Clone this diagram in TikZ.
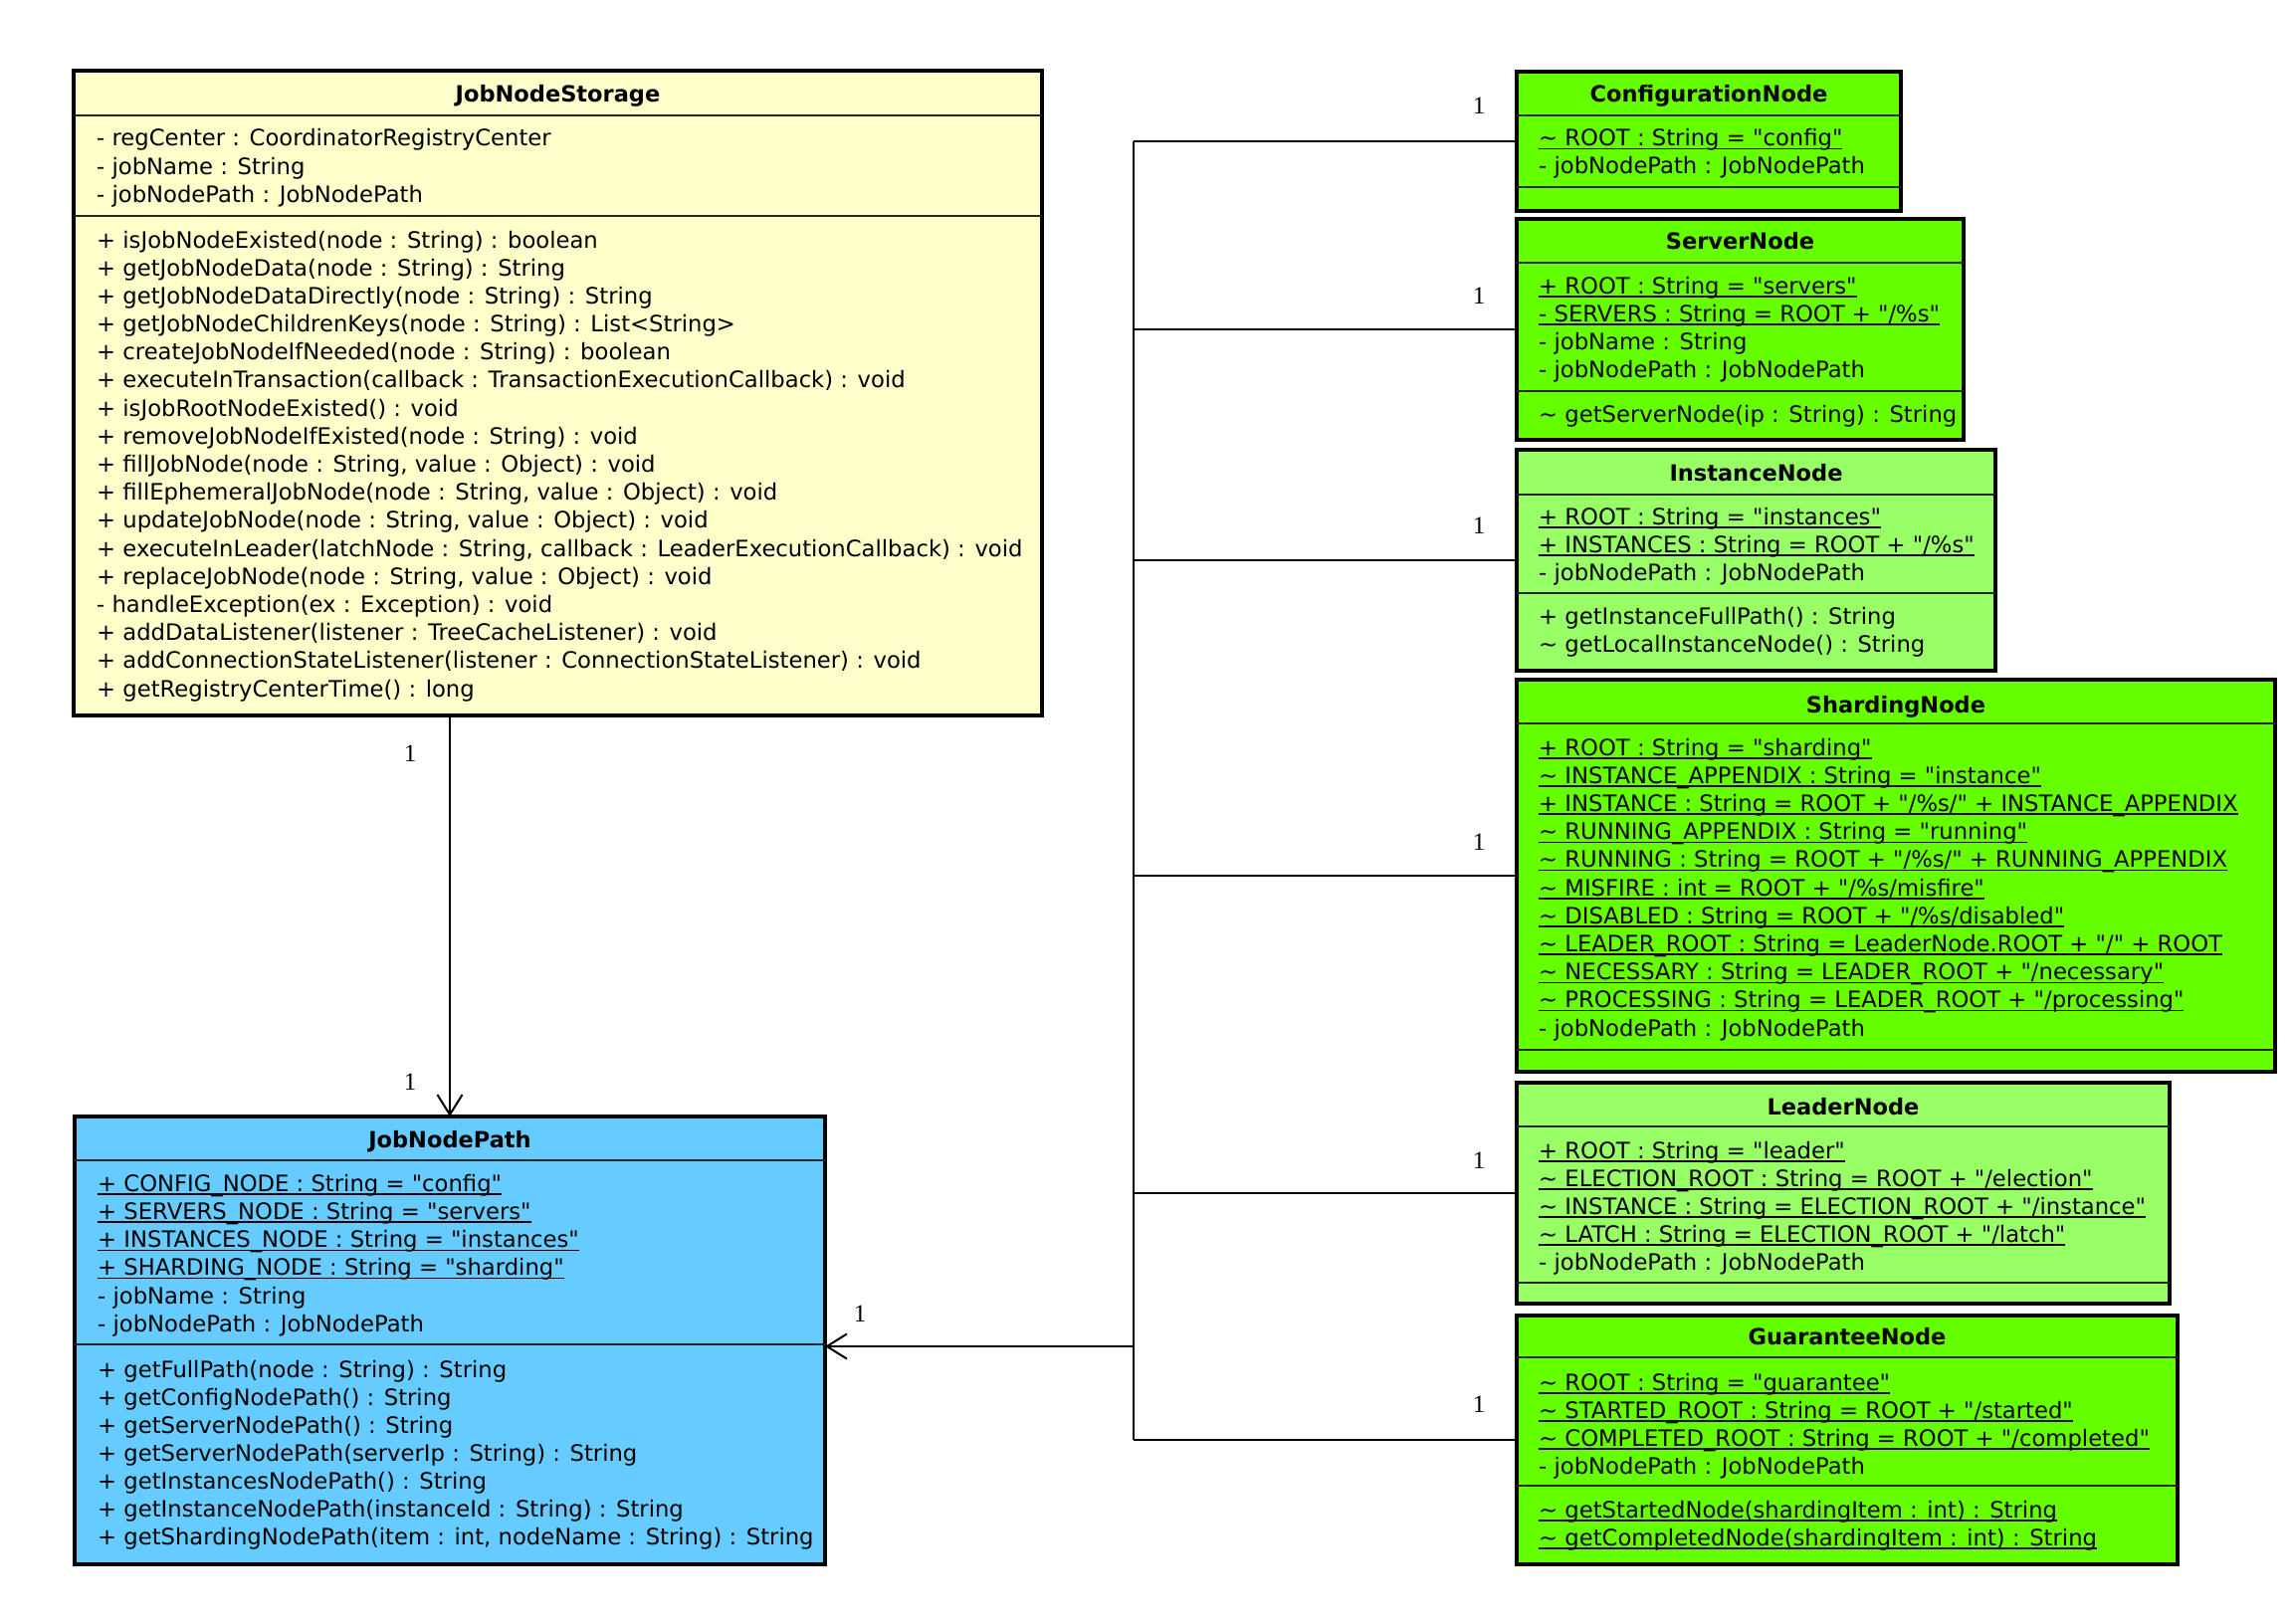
\documentclass[tikz,border=0pt]{standalone}
\usepackage{fontspec}
\newfontfamily\clsfont{DejaVu Sans}
\newfontfamily\multfont{Liberation Serif}
\usetikzlibrary{arrows.meta}
\definecolor{jnsyellow}{RGB}{255,255,204}
\definecolor{jnpblue}{RGB}{102,204,255}
\definecolor{nodegreen}{RGB}{102,255,0}
\definecolor{lightgreen}{RGB}{153,255,102}
\newsavebox\undlbox
\newcommand\undl[1]{\sbox\undlbox{#1}\rlap{\rule[-3.5pt]{\wd\undlbox}{1.6pt}}\usebox\undlbox}
\newcommand\tld{\textasciitilde}
\newcommand\sepat[2]{\draw[sepline] ([yshift=-#2pt]#1.north west) -- ([yshift=-#2pt]#1.north east);}
\tikzset{
  classbox/.style={draw=black, line width=4pt, inner sep=0pt, outer sep=0pt},
  sepline/.style={draw=black!85, line width=2pt},
  mbr/.style={anchor=base west, inner sep=0pt, font=\clsfont\fontsize{22.7}{27}\selectfont},
  ttl/.style={anchor=base, inner sep=0pt, font=\clsfont\bfseries\fontsize{22.5}{27}\selectfont},
  assoc/.style={draw=black, line width=2pt},
  arr/.style={assoc, -{Straight Barb[length=20pt, width=25pt]}},
  mult/.style={inner sep=0pt, font=\multfont\fontsize{25}{28}\selectfont}
}
\begin{document}
\begin{tikzpicture}[x=1pt,y=-1pt]
\useasboundingbox[fill=white] (0,0) rectangle (2302,1632);

% ---------- JobNodeStorage ----------
\node[classbox, fill=jnsyellow, minimum width=973pt, minimum height=648pt] (jns) at (560.5,395) {};
\node[ttl] (jns-t) at (jns.north |- 0,103) {JobNodeStorage};
\sepat{jns}{45}
\sepat{jns}{146}
\foreach [count=\i from 0] \t in {
  {- regCenter : CoordinatorRegistryCenter},
  {- jobName : String},
  {- jobNodePath : JobNodePath}}
  \node[mbr] (jns-a\i) at (97,147+28.4*\i) {\t};
\foreach [count=\i from 0] \t in {
  {+ isJobNodeExisted(node : String) : boolean},
  {+ getJobNodeData(node : String) : String},
  {+ getJobNodeDataDirectly(node : String) : String},
  {+ getJobNodeChildrenKeys(node : String) : List<String>},
  {+ createJobNodeIfNeeded(node : String) : boolean},
  {+ executeInTransaction(callback : TransactionExecutionCallback) : void},
  {+ isJobRootNodeExisted() : void},
  {+ removeJobNodeIfExisted(node : String) : void},
  {+ fillJobNode(node : String, value : Object) : void},
  {+ fillEphemeralJobNode(node : String, value : Object) : void},
  {+ updateJobNode(node : String, value : Object) : void},
  {+ executeInLeader(latchNode : String, callback : LeaderExecutionCallback) : void},
  {+ replaceJobNode(node : String, value : Object) : void},
  {- handleException(ex : Exception) : void},
  {+ addDataListener(listener : TreeCacheListener) : void},
  {+ addConnectionStateListener(listener : ConnectionStateListener) : void},
  {+ getRegistryCenterTime() : long}}
  \node[mbr] (jns-m\i) at (97,249+28.19*\i) {\t};

% ---------- JobNodePath ----------
\node[classbox, fill=jnpblue, minimum width=754pt, minimum height=450pt] (jnp) at (452,1347) {};
\node[ttl] (jnp-t) at (jnp.north |- 0,1153) {JobNodePath};
\sepat{jnp}{44}
\sepat{jnp}{229}
\foreach [count=\i from 0] \t in {
  {\undl{+ CONFIG\_NODE : String = "config"}},
  {\undl{+ SERVERS\_NODE : String = "servers"}},
  {\undl{+ INSTANCES\_NODE : String = "instances"}},
  {\undl{+ SHARDING\_NODE : String = "sharding"}},
  {- jobName : String},
  {- jobNodePath : JobNodePath}}
  \node[mbr] (jnp-a\i) at (98,1197+28.3*\i) {\t};
\foreach [count=\i from 0] \t in {
  {+ getFullPath(node : String) : String},
  {+ getConfigNodePath() : String},
  {+ getServerNodePath() : String},
  {+ getServerNodePath(serverIp : String) : String},
  {+ getInstancesNodePath() : String},
  {+ getInstanceNodePath(instanceId : String) : String},
  {+ getShardingNodePath(item : int, nodeName : String) : String}}
  \node[mbr] (jnp-m\i) at (98,1384+28*\i) {\t};

% ---------- ConfigurationNode ----------
\node[classbox, fill=nodegreen, minimum width=386pt, minimum height=140pt] (cfg) at (1717,142) {};
\node[ttl] (cfg-t) at (cfg.north |- 0,103) {ConfigurationNode};
\sepat{cfg}{44}
\sepat{cfg}{116}
\foreach [count=\i from 0] \t in {
  {\undl{\tld\ ROOT : String = "config"}},
  {- jobNodePath : JobNodePath}}
  \node[mbr] (cfg-a\i) at (1546,147+28*\i) {\t};

% ---------- ServerNode ----------
\node[classbox, fill=nodegreen, minimum width=449pt, minimum height=222pt] (srv) at (1748.5,331) {};
\node[ttl] (srv-t) at (srv.north |- 0,251) {ServerNode};
\sepat{srv}{44}
\sepat{srv}{173}
\foreach [count=\i from 0] \t in {
  {\undl{+ ROOT : String = "servers"}},
  {\undl{- SERVERS : String = ROOT + "/\%s"}},
  {- jobName : String},
  {- jobNodePath : JobNodePath}}
  \node[mbr] (srv-a\i) at (1546,295+28.3*\i) {\t};
\node[mbr] (srv-m0) at (1546,424) {\tld\ getServerNode(ip : String) : String};

% ---------- InstanceNode ----------
\node[classbox, fill=lightgreen, minimum width=481pt, minimum height=222pt] (ins) at (1764.5,563) {};
\node[ttl] (ins-t) at (ins.north |- 0,483) {InstanceNode};
\sepat{ins}{45}
\sepat{ins}{144}
\foreach [count=\i from 0] \t in {
  {\undl{+ ROOT : String = "instances"}},
  {\undl{+ INSTANCES : String = ROOT + "/\%s"}},
  {- jobNodePath : JobNodePath}}
  \node[mbr] (ins-a\i) at (1546,527+28*\i) {\t};
\foreach [count=\i from 0] \t in {
  {+ getInstanceFullPath() : String},
  {\tld\ getLocalInstanceNode() : String}}
  \node[mbr] (ins-m\i) at (1546,627+28*\i) {\t};

% ---------- ShardingNode ----------
\node[classbox, fill=nodegreen, minimum width=762pt, minimum height=394pt] (shd) at (1905,880) {};
\node[ttl] (shd-t) at (shd.north |- 0,716) {ShardingNode};
\sepat{shd}{44}
\sepat{shd}{372}
\foreach [count=\i from 0] \t in {
  {\undl{+ ROOT : String = "sharding"}},
  {\undl{\tld\ INSTANCE\_APPENDIX : String = "instance"}},
  {\undl{+ INSTANCE : String = ROOT + "/\%s/" + INSTANCE\_APPENDIX}},
  {\undl{\tld\ RUNNING\_APPENDIX : String = "running"}},
  {\undl{\tld\ RUNNING : String = ROOT + "/\%s/" + RUNNING\_APPENDIX}},
  {\undl{\tld\ MISFIRE : int = ROOT + "/\%s/misfire"}},
  {\undl{\tld\ DISABLED : String = ROOT + "/\%s/disabled"}},
  {\undl{\tld\ LEADER\_ROOT : String = LeaderNode.ROOT + "/" + ROOT}},
  {\undl{\tld\ NECESSARY : String = LEADER\_ROOT + "/necessary"}},
  {\undl{\tld\ PROCESSING : String = LEADER\_ROOT + "/processing"}},
  {- jobNodePath : JobNodePath}}
  \node[mbr] (shd-a\i) at (1546,759+28.2*\i) {\t};

% ---------- LeaderNode ----------
\node[classbox, fill=lightgreen, minimum width=656pt, minimum height=222pt] (ldr) at (1852,1199) {};
\node[ttl] (ldr-t) at (ldr.north |- 0,1120) {LeaderNode};
\sepat{ldr}{44}
\sepat{ldr}{201}
\foreach [count=\i from 0] \t in {
  {\undl{+ ROOT : String = "leader"}},
  {\undl{\tld\ ELECTION\_ROOT : String = ROOT + "/election"}},
  {\undl{\tld\ INSTANCE : String = ELECTION\_ROOT + "/instance"}},
  {\undl{\tld\ LATCH : String = ELECTION\_ROOT + "/latch"}},
  {- jobNodePath : JobNodePath}}
  \node[mbr] (ldr-a\i) at (1546,1164+28*\i) {\t};

% ---------- GuaranteeNode ----------
\node[classbox, fill=nodegreen, minimum width=664pt, minimum height=250pt] (grt) at (1856,1447) {};
\node[ttl] (grt-t) at (grt.north |- 0,1351) {GuaranteeNode};
\sepat{grt}{42}
\sepat{grt}{171}
\foreach [count=\i from 0] \t in {
  {\undl{\tld\ ROOT : String = "guarantee"}},
  {\undl{\tld\ STARTED\_ROOT : String = ROOT + "/started"}},
  {\undl{\tld\ COMPLETED\_ROOT : String = ROOT + "/completed"}},
  {- jobNodePath : JobNodePath}}
  \node[mbr] (grt-a\i) at (1546,1397+28*\i) {\t};
\foreach [count=\i from 0] \t in {
  {\undl{\tld\ getStartedNode(shardingItem : int) : String}},
  {\undl{\tld\ getCompletedNode(shardingItem : int) : String}}}
  \node[mbr] (grt-m\i) at (1546,1525+28.5*\i) {\t};

% ---------- connectors ----------
\coordinate (busx) at (1139,0);
\coordinate (busj) at (1139,1353);
\foreach \n in {cfg,srv,ins,shd,ldr,grt}
  \draw[assoc] (\n.west) -- (\n.west -| busx);
\draw[assoc] (cfg.west -| busx) -- (grt.west -| busx);
\draw[arr] (busj) -- (busj -| jnp.east);
\draw[arr] (jnp.north |- jns.south) -- (jnp.north);

% ---------- multiplicities ----------
\node[mult] (mul-s) at (412,757) {1};
\node[mult] (mul-p) at (412,1087) {1};
\node[mult] (mul-j) at (864,1320) {1};
\node[mult] (mul-cfg) at (1486,106) {1};
\node[mult] (mul-srv) at (1486,297) {1};
\node[mult] (mul-ins) at (1486,528) {1};
\node[mult] (mul-shd) at (1486,846) {1};
\node[mult] (mul-ldr) at (1486,1166) {1};
\node[mult] (mul-grt) at (1486,1411) {1};
\end{tikzpicture}
\end{document}
